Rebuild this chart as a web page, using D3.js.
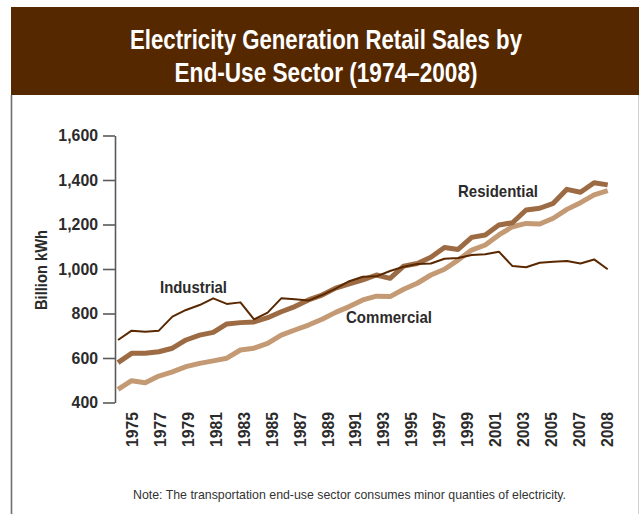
<!DOCTYPE html>
<html>
<head>
<meta charset="utf-8">
<script src="https://cdn.jsdelivr.net/npm/d3@7"></script>
<style>
  html, body { margin: 0; padding: 0; background: #fff; }
  svg { display: block; }
  text { font-family: "Liberation Sans", Arial, Helvetica, sans-serif; }
</style>
</head>
<body>
<svg id="chart" width="639" height="514"></svg>
<script>
// Retail sales of electricity by end-use sector, billion kWh
const years = [1972, 1973, 1974, 1975, 1976, 1977, 1978, 1979, 1980, 1981,
               1982, 1983, 1984, 1985, 1986, 1987, 1988, 1989, 1990, 1991,
               1992, 1993, 1994, 1995, 1996, 1997, 1998, 1999, 2000, 2001,
               2002, 2003, 2004, 2005, 2006, 2007, 2008];

const residential = [579, 621, 621, 628, 644, 681, 703, 715, 753, 759,
                     762, 781, 808, 831, 861, 883, 914, 933, 951, 973,
                     958, 1013, 1025, 1053, 1097, 1088, 1142, 1153, 1198, 1208,
                     1265, 1273, 1295, 1358, 1345, 1388, 1378];

const commercial = [459, 498, 489, 519, 538, 561, 576, 587, 599, 636,
                    644, 666, 703, 726, 748, 774, 805, 831, 861, 878,
                    876, 909, 936, 973, 999, 1040, 1085, 1108, 1153, 1190,
                    1205, 1202, 1228, 1268, 1298, 1333, 1352];

const industrial = [681, 723, 718, 723, 786, 816, 838, 868, 843, 850,
                    774, 804, 868, 864, 858, 883, 912, 945, 965, 967,
                    991, 1010, 1022, 1025, 1046, 1049, 1063, 1066, 1078, 1013,
                    1008, 1028, 1033, 1036, 1025, 1043, 999];

const yTicks = [400, 600, 800, 1000, 1200, 1400, 1600];
const xTickLabels = ["1975", "1977", "1979", "1981", "1983", "1985", "1987", "1989", "1991",
                     "1993", "1995", "1997", "1999", "2001", "2003", "2005", "2007", "2008"];

const titleLines = ["Electricity Generation Retail Sales by", "End-Use Sector (1974\u20132008)"];
const yTitle = "Billion kWh";
const note = "Note: The transportation end-use sector consumes minor quanties of electricity.";

const ink = "#2b2b2b";
const svg = d3.select("#chart");

// Squeeze a text run horizontally, giving the condensed look of the type
function condense(sel, factor) {
  sel.each(function () {
    const len = this.getComputedTextLength();
    d3.select(this).attr("textLength", len * factor).attr("lengthAdjust", "spacingAndGlyphs");
  });
}

// Frame: heading band and panel edges
svg.append("rect").attr("x", 11).attr("y", 7).attr("width", 640).attr("height", 88).attr("fill", "#562800");
svg.append("line").attr("x1", 11.5).attr("x2", 11.5).attr("y1", 95).attr("y2", 514)
   .attr("stroke", "#6e6e6e").attr("stroke-width", 1.6);
svg.append("line").attr("x1", 638.5).attr("x2", 638.5).attr("y1", 95).attr("y2", 514)
   .attr("stroke", "#d0d0d0").attr("stroke-width", 1);

// Heading
const titleLayout = [{y: 49, w: 392}, {y: 82, w: 303}];
svg.selectAll("text.title").data(titleLines).join("text")
   .attr("class", "title")
   .attr("x", 326).attr("y", (d, i) => titleLayout[i].y)
   .attr("text-anchor", "middle")
   .attr("fill", "#fff").attr("font-weight", "bold").attr("font-size", 28)
   .attr("textLength", (d, i) => titleLayout[i].w).attr("lengthAdjust", "spacingAndGlyphs")
   .text(d => d);

// Scales
const x = d3.scaleLinear().domain([1972, 2008]).range([118, 607.7]);
const y = d3.scaleLinear().domain([400, 1600]).range([402.5, 135.5]);
const xLab = d3.scalePoint().domain(xTickLabels).range([132, 607]);

// Y axis
const yAxis = svg.append("g").attr("transform", "translate(115,0)")
   .call(d3.axisLeft(y).tickValues(yTicks).tickSize(12).tickSizeOuter(0).tickPadding(5).tickFormat(d3.format(",")));
yAxis.select(".domain").attr("stroke", "#5a5a5a").attr("stroke-width", 1.6);
yAxis.selectAll(".tick line").attr("stroke", "#5a5a5a").attr("stroke-width", 1.6);
yAxis.selectAll(".tick text")
   .attr("fill", ink).attr("font-size", 16.5).attr("font-weight", "bold")
   .style("font-family", "\"Liberation Sans\", Arial, Helvetica, sans-serif")
   .call(condense, 0.96);

svg.append("text")
   .attr("transform", "translate(41,270) rotate(-90)")
   .attr("text-anchor", "middle").attr("dy", "0.35em")
   .attr("fill", ink).attr("font-weight", "bold").attr("font-size", 16.5)
   .attr("textLength", 80).attr("lengthAdjust", "spacingAndGlyphs")
   .text(yTitle);

// Year labels, rotated
svg.append("g").selectAll("text").data(xTickLabels).join("text")
   .attr("transform", d => `translate(${xLab(d)},412) rotate(-90)`)
   .attr("text-anchor", "end").attr("dy", "0.36em")
   .attr("fill", ink).attr("font-weight", "bold").attr("font-size", 16.5)
   .attr("textLength", 35).attr("lengthAdjust", "spacingAndGlyphs")
   .text(d => d);

// Lines
const series = [
  {name: "Commercial", values: commercial, color: "#c49a74", width: 5},
  {name: "Residential", values: residential, color: "#9c6b44", width: 5},
  {name: "Industrial", values: industrial, color: "#5a2800", width: 2}
];
const line = d3.line().x((d, i) => x(years[i])).y(d => y(d));
svg.append("g").selectAll("path").data(series).join("path")
   .attr("d", s => line(s.values))
   .attr("fill", "none")
   .attr("stroke", s => s.color)
   .attr("stroke-width", s => s.width)
   .attr("stroke-linejoin", "round");

// Series labels
const seriesLabels = [
  {text: "Industrial", x: 160, y: 293, w: 67},
  {text: "Residential", x: 458, y: 197, w: 80},
  {text: "Commercial", x: 346, y: 323, w: 86}
];
svg.append("g").selectAll("text").data(seriesLabels).join("text")
   .attr("x", d => d.x).attr("y", d => d.y)
   .attr("fill", ink).attr("font-weight", "bold").attr("font-size", 17)
   .attr("textLength", d => d.w).attr("lengthAdjust", "spacingAndGlyphs")
   .text(d => d.text);

// Footnote
svg.append("text")
   .attr("x", 133).attr("y", 499)
   .attr("fill", "#333").attr("font-size", 13.5)
   .attr("textLength", 433).attr("lengthAdjust", "spacingAndGlyphs")
   .text(note);
</script>
</body>
</html>
